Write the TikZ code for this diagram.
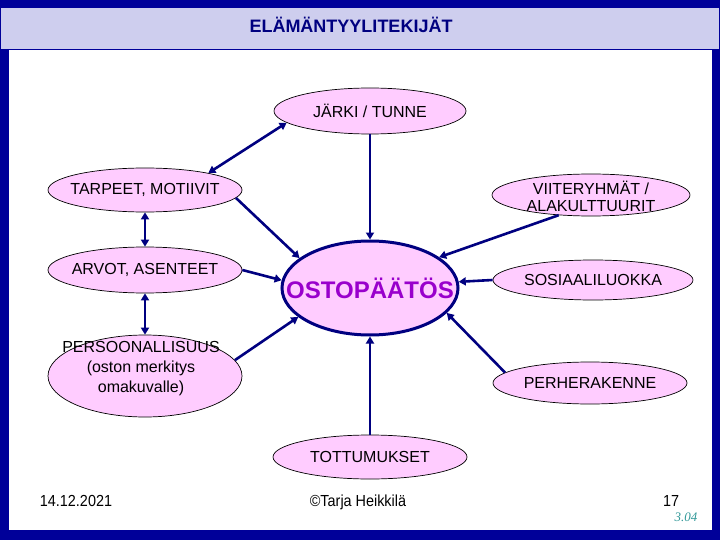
\documentclass[tikz,border=0pt]{standalone}
\usepackage{fontspec}
\setmainfont{Liberation Sans}
\newfontfamily\serifit{Liberation Serif}
\usetikzlibrary{arrows.meta,shapes.geometric}
\definecolor{framec}{RGB}{0,0,153}
\definecolor{titlefill}{RGB}{206,206,238}
\definecolor{pinkfill}{RGB}{255,204,255}
\definecolor{connc}{RGB}{0,0,128}
\definecolor{purpletext}{RGB}{153,0,204}
\definecolor{tealtext}{RGB}{51,153,153}
\tikzset{
  ell/.style={ellipse, draw=black, line width=0.7pt, fill=pinkfill, inner sep=0pt},
  txt/.style={inner sep=0pt, align=center, font=\fontsize{16}{20}\selectfont},
  conn/.style={draw=connc, line width=2.6pt},
  tip/.style={-{Triangle[length=7pt,width=8pt]}},
  tips/.style={{Triangle[length=7pt,width=8pt]}-{Triangle[length=7pt,width=8pt]}},
  foot/.style={inner sep=0pt, anchor=base, font=\fontsize{16}{18}\selectfont}
}
\begin{document}
\begin{tikzpicture}[x=1pt,y=-1pt]
\useasboundingbox (0,0) rectangle (720,540);
% frame
\fill[framec] (0,0) rectangle (720,540);
\fill[white] (9,50) rectangle (712,530);
\draw[framec, fill=titlefill, line width=1pt] (0.5,8) rectangle (719.5,50);
\node[inner sep=0pt, text=connc, font=\fontsize{18}{20}\selectfont\bfseries] (title) at (351,25) {ELÄMÄNTYYLITEKIJÄT};

% ellipses
\node[ell, minimum width=192pt, minimum height=46pt] (jarki) at (370,111) {};
\node[ell, minimum width=194pt, minimum height=44pt] (tarpeet) at (145,190) {};
\node[ell, minimum width=194pt, minimum height=46pt] (arvot) at (145,270) {};
\node[ell, minimum width=194pt, minimum height=82pt] (persoona) at (145,376) {};
\node[ell, minimum width=198pt, minimum height=42pt] (viite) at (591,195) {};
\node[ell, minimum width=200pt, minimum height=40pt] (sosiaali) at (593,280) {};
\node[ell, minimum width=194pt, minimum height=42pt] (perhe) at (590,383) {};
\node[ell, minimum width=194pt, minimum height=44pt] (tottu) at (370,457) {};
\node[ellipse, draw=connc, line width=3pt, fill=pinkfill, inner sep=0pt,
      minimum width=176pt, minimum height=94pt] (osto) at (370,288) {};

% texts
\node[txt] (jarkiT) at (jarki) {JÄRKI / TUNNE};
\node[txt] (tarpeetT) at (tarpeet) {TARPEET, MOTIIVIT};
\node[txt] (arvotT) at (arvot) {ARVOT, ASENTEET};
\node[txt] (persoonaT) at (141,369) {PERSOONALLISUUS\\(oston merkitys\\omakuvalle)};
\node[txt, font=\fontsize{16}{17}\selectfont] (viiteT) at (591,196) {VIITERYHMÄT /\\ALAKULTTUURIT};
\node[txt] (sosiaaliT) at (sosiaali) {SOSIAALILUOKKA};
\node[txt] (perheT) at (perhe) {PERHERAKENNE};
\node[txt] (tottuT) at (tottu) {TOTTUMUKSET};
\node[inner sep=0pt, text=purpletext, font=\fontsize{24}{26}\selectfont\bfseries] (ostoT) at (osto) {OSTOPÄÄTÖS};

% connectors
\draw[conn, tips] (jarki.188) -- (tarpeet.15);
\draw[conn, tip] (jarki) -- (osto);
\draw[conn, tip] (viite.212) -- (osto.24);
\draw[conn, tip] (sosiaali.west) -- (osto.4);
\draw[conn, tip] (perhe.173) -- (osto.-18);
\draw[conn, tip] (tottu) -- (osto);
\draw[conn, tip] (persoona.10) -- (osto.202);
\draw[conn, tip] (arvot.east) -- (osto.175);
\draw[conn, tip] (tarpeet.-5) -- (osto.157);
\draw[conn, tips] (tarpeet.south) -- (arvot.north);
\draw[conn, tips] (arvot.south) -- (persoona.north);

% footer
\node[foot] (date) at (76,506) {\scalebox{0.9}[1]{14.12.2021}};
\node[foot] (author) at (358,506) {\scalebox{0.9}[1]{©Tarja Heikkilä}};
\node[foot] (page) at (671,506) {\scalebox{0.9}[1]{17}};
\node[inner sep=0pt, anchor=base, text=tealtext, font=\serifit\fontsize{13}{14}\selectfont\itshape] (ver) at (686,521) {3.04};
\end{tikzpicture}
\end{document}
